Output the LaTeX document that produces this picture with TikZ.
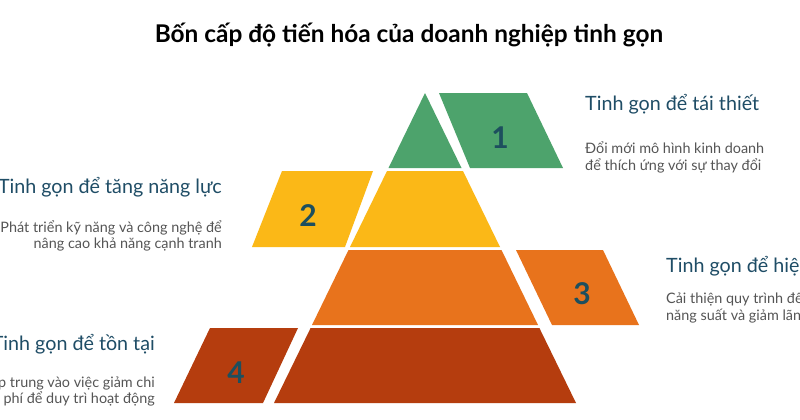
\documentclass[tikz,border=0pt]{standalone}
\usepackage{fontspec}
\setmainfont{Lato}
\definecolor{cgreen}{HTML}{4DA36C}
\definecolor{cyellow}{HTML}{FBB817}
\definecolor{corange}{HTML}{E8731C}
\definecolor{cred}{HTML}{B53D0E}
\definecolor{cnum}{HTML}{1D4F5E}
\definecolor{chead}{HTML}{1F4D66}
\definecolor{cdesc}{HTML}{555555}
\tikzset{
  numlbl/.style={text=cnum, font=\bfseries\fontsize{30}{32}\selectfont, inner sep=0pt},
  headtxt/.style={text=chead, font=\fontsize{19.7}{22}\selectfont, inner sep=0pt},
  desctxt/.style={text=cdesc, font=\fontsize{14.4}{16}\selectfont, inner sep=0pt},
  titletxt/.style={text=black, font=\bfseries\fontsize{24.4}{26}\selectfont, inner sep=0pt}
}
\begin{document}
\begin{tikzpicture}[x=1pt,y=-1pt]
\useasboundingbox (0,0) rectangle (800,420);
\clip (0,0) rectangle (800,420);
\fill[white] (0,0) rectangle (800,420);
% title
\node[titletxt, anchor=base] (title) at (409,43) {Bốn cấp độ tiến hóa của doanh nghiệp tinh gọn};
% pyramid bands
\fill[cgreen] (425,93) -- (461.5,168) -- (388.5,168) -- cycle;
\fill[cyellow] (387,171) -- (463,171) -- (500,247) -- (350,247) -- cycle;
\fill[corange] (348.5,250) -- (501.5,250) -- (538,325) -- (312,325) -- cycle;
\fill[cred] (310.6,328) -- (539.4,328) -- (576,403) -- (274,403) -- cycle;
% parallelograms
\fill[cgreen] (439,93) -- (527,93) -- (563,168) -- (470,168) -- cycle;
\fill[cyellow] (282,171) -- (373,171) -- (345,247) -- (252,247) -- cycle;
\fill[corange] (516,250) -- (603,250) -- (639,325) -- (552,325) -- cycle;
\fill[cred] (210,328) -- (298,328) -- (263,403) -- (174,403) -- cycle;
% numbers
\node[numlbl] (n1) at (500,138) {1};
\node[numlbl] (n2) at (308,216) {2};
\node[numlbl] (n3) at (582,294) {3};
\node[numlbl] (n4) at (236,373) {4};
% level 1
\node[headtxt, anchor=base west] (h1) at (585,110) {Tinh gọn để tái thiết};
\node[desctxt, anchor=base west] (d1a) at (585,153) {Đổi mới mô hình kinh doanh};
\node[desctxt, anchor=base west] (d1b) at (585,170) {để thích ứng với sự thay đổi};
% level 2
\node[headtxt, anchor=base east] (h2) at (222,193) {Tinh gọn để tăng năng lực};
\node[desctxt, anchor=base east] (d2a) at (222,232) {Phát triển kỹ năng và công nghệ để};
\node[desctxt, anchor=base east] (d2b) at (222,248) {nâng cao khả năng cạnh tranh};
% level 3
\node[headtxt, anchor=base west] (h3) at (666,272) {Tinh gọn để hiệu quả};
\node[desctxt, anchor=base west] (d3a) at (666,303) {Cải thiện quy trình để tăng};
\node[desctxt, anchor=base west] (d3b) at (666,320) {năng suất và giảm lãng phí};
% level 4
\node[headtxt, anchor=base east] (h4) at (155,350) {Tinh gọn để tồn tại};
\node[desctxt, anchor=base east] (d4a) at (155,387) {Tập trung vào việc giảm chi};
\node[desctxt, anchor=base east] (d4b) at (155,403) {phí để duy trì hoạt động};
\end{tikzpicture}
\end{document}
